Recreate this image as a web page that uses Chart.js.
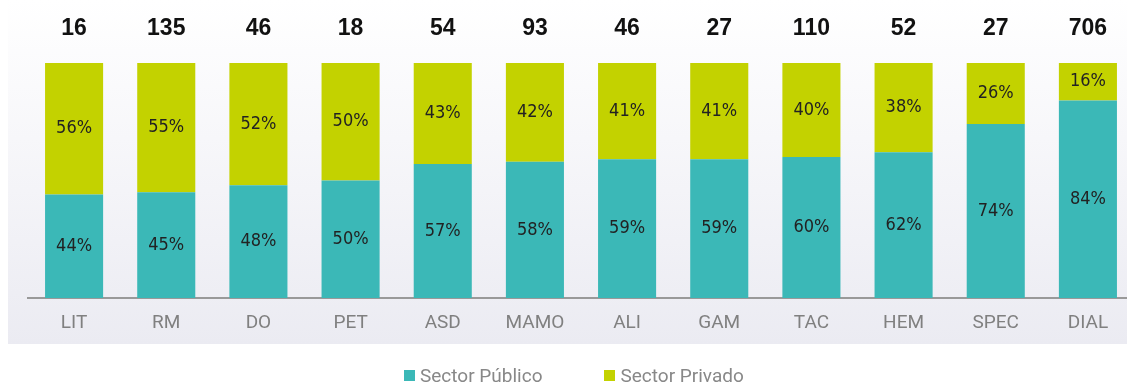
<!DOCTYPE html>
<html>
<head>
<meta charset="utf-8">
<script src="https://cdn.jsdelivr.net/npm/chart.js@4.4.0/dist/chart.umd.min.js"></script>
<style>
    html, body { margin: 0; padding: 0; background: #fff; overflow: hidden; }
    #wrap { position: relative; width: 1152px; height: 385px; }
    #panel {
        position: absolute; left: 8px; top: 0; width: 1144px; height: 344px;
        background: linear-gradient(to bottom, #ffffff 0%, #f7f7fa 40%, #ebebf2 100%);
    }
    #chart { position: absolute; left: 0; top: 0; }
    #leyenda {
        position: absolute; left: 404px; top: 364px; height: 22px;
        display: flex; align-items: center; gap: 62px;
        font-family: Roboto, sans-serif; font-size: 19px; color: #888;
    }
    #leyenda span.item { display: flex; align-items: center; gap: 5px; }
    #leyenda i { display: inline-block; width: 11px; height: 11px; }
</style>
</head>
<body>
<div id="wrap">
    <div id="panel"></div>
    <canvas id="chart" width="1152" height="385"></canvas>
    <div id="leyenda"></div>
</div>
<script>
const categorias = ["LIT", "RM", "DO", "PET", "ASD", "MAMO", "ALI", "GAM", "TAC", "HEM", "SPEC", "DIAL"];
const publico = [44, 45, 48, 50, 57, 58, 59, 59, 60, 62, 74, 84];
const privado = [56, 55, 52, 50, 43, 42, 41, 41, 40, 38, 26, 16];
const totales = [16, 135, 46, 18, 54, 93, 46, 27, 110, 52, 27, 706];

const COLOR_PUBLICO = "#3bb8b7";
const COLOR_PRIVADO = "#c3d200";

// ── Etiquetas: % dentro de cada tramo y total encima ─────────
const etiquetasPlugin = {
    id: "etiquetas",
    afterDatasetsDraw(chart) {
        const ctx = chart.ctx;
        ctx.save();
        ctx.textAlign = "center";
        ctx.textBaseline = "middle";
        ctx.fillStyle = "#222";
        ctx.font = "18px 'DejaVu Sans Condensed', 'Liberation Sans Narrow', sans-serif";
        chart.data.datasets.forEach((ds, di) => {
            chart.getDatasetMeta(di).data.forEach((bar, i) => {
                const mid = (bar.y + bar.base) / 2;
                ctx.fillText(ds.data[i] + "%", bar.x, mid);
            });
        });

        ctx.fillStyle = "#111";
        ctx.font = "bold 23px 'Liberation Sans', Arial, sans-serif";
        chart.getDatasetMeta(0).data.forEach((bar, i) => {
            ctx.fillText(totales[i], bar.x, 29);
        });
        ctx.restore();
    }
};

const chart = new Chart(document.getElementById("chart"), {
    type: "bar",
    data: {
        labels: categorias,
        datasets: [
            { label: "Sector Público", data: publico, backgroundColor: COLOR_PUBLICO },
            { label: "Sector Privado", data: privado, backgroundColor: COLOR_PRIVADO }
        ]
    },
    options: {
        responsive: false,
        animation: false,
        layout: { padding: { top: 63, left: 28, right: 18, bottom: 0 } },
        datasets: { bar: { barPercentage: 0.63, categoryPercentage: 1 } },
        scales: {
            x: {
                stacked: true,
                grid: { color: "transparent", drawTicks: false },
                border: { display: true, color: "#999", width: 2 },
                ticks: { color: "#808080", padding: 14, font: { family: "Roboto", size: 19 } },
                afterFit: scale => { scale.height = 87; }
            },
            y: { stacked: true, display: false, min: 0, max: 100 }
        },
        plugins: {
            legend: { display: false },
            tooltip: { enabled: false }
        }
    },
    plugins: [etiquetasPlugin]
});

// ── Leyenda ──────────────────────────────────────────────────
const leyenda = document.getElementById("leyenda");
chart.data.datasets.forEach(ds => {
    const item = document.createElement("span");
    item.className = "item";
    item.innerHTML = `<i style="background:${ds.backgroundColor}"></i>${ds.label}`;
    leyenda.appendChild(item);
});
</script>
</body>
</html>
